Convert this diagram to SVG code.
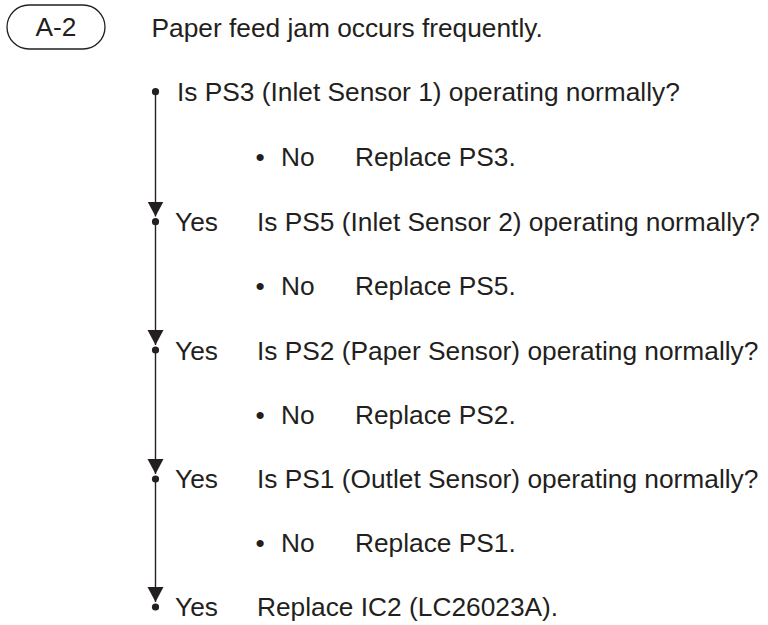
<svg xmlns="http://www.w3.org/2000/svg" width="768" height="625" viewBox="0 0 768 625">
<style>
text{font-family:"Liberation Sans",Arial,sans-serif;font-size:26.3px;fill:#231f20}
.ln{stroke:#231f20;stroke-width:1.4;fill:none}
.dot{fill:#231f20}
</style>
<defs>
<marker id="arr" markerUnits="userSpaceOnUse" markerWidth="20" markerHeight="20" refX="15" refY="10" orient="auto">
<path d="M0,2 L15,10 L0,18 z" fill="#231f20"/>
</marker>
</defs>
<rect width="768" height="625" fill="#fff"/>
<g id="label-A2">
<rect x="7" y="5" width="98" height="44" rx="22" ry="22" fill="none" stroke="#231f20" stroke-width="1.3"/>
<text x="56" y="36" text-anchor="middle">A-2</text>
</g>
<g id="title"><text x="151.5" y="36.5">Paper feed jam occurs frequently.</text></g>
<g id="connectors">
<line class="ln" x1="155.5" y1="91.7" x2="155.5" y2="216.5" marker-end="url(#arr)"/>
<line class="ln" x1="155.5" y1="221.7" x2="155.5" y2="345" marker-end="url(#arr)"/>
<line class="ln" x1="155.5" y1="350" x2="155.5" y2="474" marker-end="url(#arr)"/>
<line class="ln" x1="155.5" y1="479" x2="155.5" y2="602" marker-end="url(#arr)"/>
<circle class="dot" cx="155.5" cy="91.7" r="3.6"/>
<circle class="dot" cx="155.5" cy="221.7" r="3.6"/>
<circle class="dot" cx="155.5" cy="350" r="3.6"/>
<circle class="dot" cx="155.5" cy="479" r="3.6"/>
<circle class="dot" cx="155.5" cy="607" r="3.6"/>
</g>
<g id="q1"><text x="177" y="101">Is PS3 (Inlet Sensor 1) operating normally?</text></g>
<g id="no1"><text x="255.5" y="166">•</text><text x="281" y="166">No</text><text x="355" y="166">Replace PS3.</text></g>
<g id="q2"><text x="175" y="231">Yes</text><text x="257" y="231">Is PS5 (Inlet Sensor 2) operating normally?</text></g>
<g id="no2"><text x="255.5" y="295">•</text><text x="281" y="295">No</text><text x="355" y="295">Replace PS5.</text></g>
<g id="q3"><text x="175" y="360">Yes</text><text x="257" y="360">Is PS2 (Paper Sensor) operating normally?</text></g>
<g id="no3"><text x="255.5" y="424">•</text><text x="281" y="424">No</text><text x="355" y="424">Replace PS2.</text></g>
<g id="q4"><text x="175" y="488">Yes</text><text x="257" y="488">Is PS1 (Outlet Sensor) operating normally?</text></g>
<g id="no4"><text x="255.5" y="552">•</text><text x="281" y="552">No</text><text x="355" y="552">Replace PS1.</text></g>
<g id="end"><text x="175" y="616">Yes</text><text x="257" y="616">Replace IC2 (LC26023A).</text></g>
</svg>
